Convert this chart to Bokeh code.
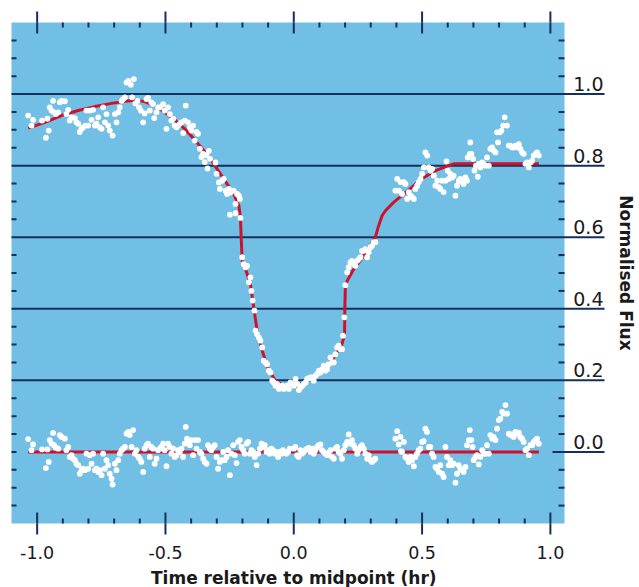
import numpy as np
from bokeh.plotting import figure
from bokeh.models import Range1d
from bokeh.embed import file_html
from bokeh.resources import INLINE
from bokeh.core.properties import value

# ---------------- data ----------------
# model light curve (red line)
model_x = [-1.035, -0.970, -0.905, -0.840, -0.775, -0.710, -0.658, -0.619, -0.600, -0.581,
           -0.542, -0.503, -0.464, -0.425, -0.386, -0.360, -0.325, -0.273, -0.234, -0.214,
           -0.208, -0.205, -0.201, -0.188, -0.169, -0.156, -0.143, -0.123, -0.097, -0.071,
           -0.039, 0.000, 0.039, 0.078, 0.117, 0.156, 0.188, 0.198, 0.199, 0.201,
           0.208, 0.234, 0.273, 0.299, 0.318, 0.331, 0.344, 0.357, 0.390, 0.429,
           0.468, 0.507, 0.546, 0.584, 0.623, 0.662, 0.955]
model_y = [0.905, 0.921, 0.940, 0.954, 0.965, 0.974, 0.980, 0.983, 0.981, 0.979,
           0.968, 0.949, 0.928, 0.903, 0.872, 0.850, 0.819, 0.763, 0.721, 0.688,
           0.656, 0.600, 0.534, 0.511, 0.469, 0.404, 0.339, 0.283, 0.227, 0.199,
           0.185, 0.182, 0.194, 0.208, 0.231, 0.264, 0.301, 0.329, 0.404, 0.460,
           0.478, 0.511, 0.548, 0.578, 0.600, 0.633, 0.660, 0.674, 0.698, 0.721,
           0.744, 0.767, 0.784, 0.795, 0.805, 0.805, 0.805]

# residual model line
resid_line_x = [-1.035, 0.955]
resid_line_y = [0.0, 0.0]

# observed flux (white points, upper)
flux_x = [-1.035, -1.022, -1.016, -0.981, -0.966, -0.960, -0.955, -0.951, -0.944, -0.938,
          -0.934, -0.927, -0.918, -0.912, -0.905, -0.892, -0.886, -0.879, -0.873, -0.866,
          -0.853, -0.847, -0.840, -0.834, -0.827, -0.821, -0.812, -0.808, -0.801, -0.795,
          -0.788, -0.782, -0.775, -0.769, -0.762, -0.756, -0.749, -0.743, -0.736, -0.730,
          -0.723, -0.717, -0.706, -0.697, -0.691, -0.684, -0.678, -0.671, -0.665, -0.658,
          -0.652, -0.645, -0.635, -0.630, -0.623, -0.617, -0.609, -0.603, -0.596, -0.587,
          -0.581, -0.574, -0.568, -0.561, -0.555, -0.548, -0.544, -0.535, -0.529, -0.522,
          -0.509, -0.503, -0.496, -0.490, -0.483, -0.477, -0.470, -0.464, -0.457, -0.451,
          -0.444, -0.438, -0.431, -0.425, -0.421, -0.412, -0.405, -0.399, -0.392, -0.386,
          -0.379, -0.373, -0.366, -0.360, -0.353, -0.347, -0.340, -0.336, -0.331, -0.326,
          -0.305, -0.301, -0.292, -0.288, -0.279, -0.273, -0.266, -0.260, -0.253, -0.247,
          -0.240, -0.234, -0.227, -0.221, -0.214, -0.210, -0.249, -0.227, -0.208, -0.201,
          -0.195, -0.188, -0.182, -0.175, -0.169, -0.165, -0.160, -0.153, -0.149, -0.143,
          -0.136, -0.130, -0.123, -0.117, -0.110, -0.104, -0.097, -0.091, -0.084, -0.078,
          -0.071, -0.065, -0.058, -0.052, -0.045, -0.039, -0.032, -0.026, -0.019, -0.013,
          -0.006, 0.000, 0.007, 0.013, 0.020, 0.026, 0.033, 0.039, 0.046, 0.052,
          0.059, 0.065, 0.072, 0.078, 0.085, 0.091, 0.098, 0.104, 0.111, 0.117,
          0.123, 0.130, 0.136, 0.143, 0.149, 0.156, 0.162, 0.169, 0.175, 0.182,
          0.188, 0.192, 0.197, 0.201, 0.208, 0.214, 0.221, 0.227, 0.234, 0.240,
          0.247, 0.253, 0.260, 0.266, 0.273, 0.279, 0.286, 0.292, 0.299, 0.305,
          0.312, 0.318,
          0.396, 0.403, 0.409, 0.416, 0.422, 0.429, 0.435, 0.442, 0.448, 0.455,
          0.461, 0.468, 0.474, 0.481, 0.487, 0.494, 0.500, 0.507, 0.513, 0.520,
          0.526, 0.533, 0.539, 0.546, 0.552, 0.559, 0.565, 0.571, 0.578, 0.584,
          0.591, 0.595, 0.600, 0.604, 0.610, 0.617, 0.623, 0.630, 0.636, 0.643,
          0.649, 0.656, 0.662, 0.669, 0.675, 0.678, 0.686, 0.688, 0.692, 0.699,
          0.704, 0.710, 0.717, 0.721, 0.727, 0.734, 0.740, 0.747, 0.753, 0.760,
          0.766, 0.773, 0.779, 0.786, 0.792, 0.796, 0.803, 0.809, 0.816, 0.822,
          0.831, 0.838, 0.844, 0.851, 0.857, 0.864, 0.870, 0.877, 0.883, 0.890,
          0.896, 0.903, 0.909, 0.916, 0.922, 0.929, 0.935, 0.942, 0.948, 0.955]
flux_y = [0.940, 0.912, 0.928, 0.926, 0.878, 0.931, 0.898, 0.963, 0.954, 0.981,
          0.949, 0.944, 0.949, 0.977, 0.981, 0.980, 0.944, 0.956, 0.926, 0.935,
          0.933, 0.921, 0.917, 0.894, 0.903, 0.907, 0.912, 0.954, 0.912, 0.954,
          0.928, 0.956, 0.912, 0.917, 0.935, 0.907, 0.903, 0.963, 0.921, 0.944,
          0.912, 0.898, 0.884, 0.944, 0.921, 0.949, 0.963, 0.981, 0.986, 0.991,
          1.032, 1.037, 1.026, 0.991, 1.042, 0.974, 0.981, 0.963, 0.954, 0.921,
          0.946, 0.986, 0.989, 0.954, 0.977, 0.972, 0.933, 0.949, 0.963, 0.963,
          0.972, 0.954, 0.903, 0.963, 0.944, 0.926, 0.931, 0.912, 0.907, 0.912,
          0.917, 0.921, 0.891, 0.926, 0.968, 0.921, 0.907, 0.898, 0.912, 0.870,
          0.894, 0.889, 0.847, 0.824, 0.833, 0.810, 0.829, 0.792, 0.841, 0.819,
          0.809, 0.777, 0.753, 0.735, 0.758, 0.763, 0.730, 0.721, 0.735, 0.725,
          0.730, 0.730, 0.693, 0.721, 0.716, 0.707, 0.663, 0.667, 0.654, 0.544,
          0.525, 0.516, 0.520, 0.474, 0.488, 0.450, 0.423, 0.395, 0.339, 0.329,
          0.320, 0.311, 0.292, 0.255, 0.250, 0.245, 0.227, 0.222, 0.199, 0.194,
          0.185, 0.190, 0.176, 0.180, 0.185, 0.176, 0.180, 0.185, 0.176, 0.194,
          0.190, 0.185, 0.204, 0.190, 0.173, 0.180, 0.185, 0.190, 0.194, 0.204,
          0.206, 0.208, 0.208, 0.199, 0.213, 0.218, 0.227, 0.222, 0.231, 0.241,
          0.227, 0.231, 0.245, 0.264, 0.250, 0.250, 0.273, 0.292, 0.297, 0.287,
          0.287, 0.325, 0.376, 0.466, 0.502, 0.516, 0.530, 0.534, 0.525, 0.520,
          0.534, 0.539, 0.544, 0.562, 0.562, 0.567, 0.544, 0.558, 0.572, 0.576,
          0.586, 0.586,
          0.730, 0.763, 0.730, 0.754, 0.721, 0.754, 0.749, 0.707, 0.726, 0.716,
          0.712, 0.707, 0.735, 0.744, 0.754, 0.763, 0.777, 0.795, 0.837, 0.828,
          0.795, 0.786, 0.791, 0.772, 0.744, 0.758, 0.740, 0.735, 0.758, 0.726,
          0.758, 0.812, 0.786, 0.763, 0.777, 0.767, 0.772, 0.716, 0.744, 0.758,
          0.763, 0.754, 0.749, 0.767, 0.758, 0.823, 0.833, 0.865, 0.833, 0.819,
          0.786, 0.800, 0.769, 0.805, 0.795, 0.809, 0.805, 0.800, 0.823, 0.800,
          0.847, 0.851, 0.842, 0.837, 0.893, 0.865, 0.893, 0.898, 0.912, 0.935,
          0.912, 0.856, 0.856, 0.851, 0.851, 0.856, 0.851, 0.860, 0.847, 0.837,
          0.833, 0.805, 0.809, 0.795, 0.809, 0.814, 0.828, 0.833, 0.837, 0.828]

# residuals (white points, lower)
resid_x = [-1.035, -1.022, -1.016, -0.981, -0.966, -0.960, -0.955, -0.951, -0.944, -0.938,
           -0.934, -0.927, -0.918, -0.912, -0.905, -0.892, -0.886, -0.879, -0.873, -0.866,
           -0.860, -0.853, -0.847, -0.840, -0.834, -0.827, -0.821, -0.814, -0.808, -0.801,
           -0.795, -0.788, -0.782, -0.775, -0.769, -0.762, -0.756, -0.749, -0.743, -0.736,
           -0.730, -0.723, -0.717, -0.710, -0.706, -0.697, -0.691, -0.684, -0.678, -0.671,
           -0.665, -0.658, -0.652, -0.645, -0.639, -0.632, -0.626, -0.619, -0.613, -0.606,
           -0.600, -0.594, -0.587, -0.581, -0.574, -0.568, -0.561, -0.555, -0.548, -0.542,
           -0.535, -0.529, -0.522, -0.516, -0.509, -0.503, -0.496, -0.490, -0.483, -0.477,
           -0.470, -0.464, -0.457, -0.451, -0.444, -0.438, -0.431, -0.425, -0.421, -0.416,
           -0.412, -0.405, -0.399, -0.392, -0.386, -0.379, -0.373, -0.366, -0.360, -0.353,
           -0.347, -0.340, -0.334, -0.327, -0.321, -0.314, -0.308, -0.301, -0.295, -0.288,
           -0.282, -0.275, -0.269, -0.262, -0.256, -0.249, -0.243, -0.236, -0.230, -0.223,
           -0.217, -0.210, -0.204, -0.197, -0.191, -0.184, -0.178, -0.171, -0.165, -0.158,
           -0.152, -0.145, -0.139, -0.132, -0.126, -0.119, -0.113, -0.106, -0.100, -0.094,
           -0.087, -0.081, -0.074, -0.068, -0.061, -0.055, -0.048, -0.042, -0.035, -0.029,
           -0.022, -0.016,
           0.000, 0.006, 0.013, 0.019, 0.026, 0.032, 0.039, 0.045, 0.052, 0.058,
           0.065, 0.071, 0.078, 0.084, 0.091, 0.097, 0.104, 0.110, 0.117, 0.123,
           0.130, 0.136, 0.143, 0.149, 0.156, 0.162, 0.169, 0.175, 0.182, 0.188,
           0.195, 0.201, 0.208, 0.214, 0.221, 0.227, 0.234, 0.240, 0.247, 0.253,
           0.260, 0.266, 0.273, 0.279, 0.286, 0.292, 0.299, 0.305, 0.312, 0.318,
           0.396, 0.403, 0.409, 0.416, 0.418, 0.422, 0.429, 0.435, 0.442, 0.448,
           0.455, 0.461, 0.468, 0.474, 0.480, 0.487, 0.493, 0.500, 0.506, 0.513,
           0.519, 0.526, 0.532, 0.539, 0.545, 0.552, 0.558, 0.565, 0.571, 0.578,
           0.584, 0.591, 0.597, 0.604, 0.610, 0.617, 0.623, 0.630, 0.636, 0.643,
           0.649, 0.656, 0.662, 0.669, 0.675, 0.682, 0.686, 0.692, 0.697, 0.701,
           0.708, 0.714, 0.721, 0.727, 0.734, 0.740, 0.747, 0.753, 0.760, 0.766,
           0.773, 0.779, 0.786, 0.792, 0.799, 0.805, 0.812, 0.818, 0.825, 0.831,
           0.838, 0.844, 0.851, 0.857, 0.864, 0.870, 0.877, 0.883, 0.890, 0.896,
           0.903, 0.909, 0.916, 0.922, 0.929, 0.935, 0.942, 0.948, 0.955]
resid_y = [0.036, 0.005, 0.021, 0.007, -0.045, 0.007, -0.028, 0.033, 0.023, 0.053,
           0.019, 0.012, 0.009, 0.047, 0.042, 0.037, 0.005, 0.014, -0.014, -0.009,
           -0.019, -0.023, -0.033, -0.037, -0.061, -0.051, -0.047, -0.051, -0.005, -0.047,
           -0.009, -0.033, -0.005, -0.051, -0.047, -0.056, -0.051, -0.065, -0.005, -0.047,
           -0.023, -0.037, -0.061, -0.075, -0.091, -0.033, -0.051, -0.023, -0.005, 0.005,
           0.009, 0.014, 0.051, 0.056, 0.047, 0.014, 0.061, -0.005, 0.005, -0.014,
           -0.019, -0.028, -0.056, 0.009, 0.019, 0.023, -0.014, 0.014, 0.009, -0.033,
           -0.019, 0.005, 0.009, 0.014, 0.023, 0.005, -0.040, 0.023, 0.014, -0.005,
           0.009, -0.014, -0.009, 0.005, 0.000, 0.009, -0.014, 0.023, 0.070, 0.037,
           0.028, 0.019, 0.033, -0.009, 0.033, 0.009, 0.033, 0.000, -0.005, -0.019,
           -0.028, -0.033, 0.019, 0.009, 0.005, 0.014, 0.019, -0.014, -0.047, -0.028,
           -0.023, 0.000, -0.023, -0.014, 0.005, -0.065, -0.005, 0.019, -0.009, -0.031,
           0.028, 0.033, 0.014, 0.005, -0.005, 0.023, 0.028, -0.005, 0.005, 0.000,
           -0.014, -0.037, -0.005, 0.009, 0.023, 0.014, 0.019, 0.000, 0.005, -0.005,
           0.009, 0.005, -0.005, 0.000, -0.014, 0.000, -0.005, 0.005, 0.000, -0.005,
           0.000, 0.009,
           0.009, 0.014, -0.009, -0.014, 0.005, -0.005, 0.000, 0.005, 0.009, 0.011,
           0.000, 0.009, -0.005, 0.005, 0.014, 0.019, 0.021, 0.005, 0.000, -0.005,
           -0.009, -0.002, 0.005, -0.014, -0.019, 0.009, 0.014, 0.000, -0.005, -0.019,
           0.005, 0.019, 0.028, 0.049, 0.023, 0.033, 0.019, 0.009, -0.005, 0.005,
           0.014, 0.019, 0.009, -0.005, -0.019, -0.009, -0.023, -0.028, -0.023, -0.019,
           0.037, 0.058, 0.021, 0.042, 0.002, 0.000, 0.028, -0.014, -0.019, -0.028,
           -0.014, -0.023, -0.040, -0.014, -0.005, 0.005, 0.009, 0.028, 0.030, 0.065,
           0.056, 0.014, 0.014, -0.005, -0.014, -0.042, -0.047, -0.056, -0.037, -0.061,
           -0.070, 0.014, -0.014, -0.037, -0.023, -0.037, -0.033, -0.086, -0.061, -0.037,
           -0.047, -0.051, -0.056, -0.042, 0.019, 0.033, 0.061, 0.033, 0.014, -0.023,
           -0.014, -0.009, -0.035, -0.014, 0.005, -0.005, -0.005, 0.019, -0.005, 0.047,
           0.037, 0.042, 0.033, 0.065, 0.089, 0.093, 0.112, 0.107, 0.131, 0.107,
           0.051, 0.047, 0.049, 0.042, 0.056, 0.051, 0.054, 0.042, 0.037, 0.028,
           0.005, 0.009, -0.009, 0.019, 0.019, 0.028, 0.033, 0.037, 0.023]

# axes / labels
x_major = [-1.0, -0.5, 0.0, 0.5, 1.0]
x_minor = [-0.9, -0.8, -0.7, -0.6, -0.4, -0.3, -0.2, -0.1,
           0.1, 0.2, 0.3, 0.4, 0.6, 0.7, 0.8, 0.9]
x_tick_labels = ["-1.0", "-0.5", "0.0", "0.5", "1.0"]
y_lines = [1.0, 0.8, 0.6, 0.4, 0.2]
y_label_vals = [1.0, 0.8, 0.6, 0.4, 0.2, 0.0]
y_tick_labels = ["1.0", "0.8", "0.6", "0.4", "0.2", "0.0"]
y_minor = [1.15, 1.1, 1.05, 0.95, 0.9, 0.85, 0.75, 0.7, 0.65, 0.55, 0.5, 0.45,
           0.35, 0.3, 0.25, 0.15, 0.1, 0.05, -0.05, -0.1, -0.15]
x_title = "Time relative to midpoint (hr)"
y_title = "Normalised Flux"

# ---------------- layout / styling ----------------
W, H = 639, 587
BLUE = "#72BFE6"
NAVY = "#15305C"
RED = "#D0112B"
TXT = "#1a1a1a"
FONT = "DejaVu Sans"

# blue panel extent (data units) and its pixel box on the canvas
PX0, PX1 = -1.1, 1.055
PY0, PY1 = -0.2, 1.2
BOX_L, BOX_R, BOX_T, BOX_B = 11, 564, 22, 523
ppx = (BOX_R - BOX_L) / (PX1 - PX0)
ppy = (BOX_B - BOX_T) / (PY1 - PY0)
XR = (PX0 - BOX_L / ppx, PX0 + (W - BOX_L) / ppx)
YR = (PY0 - (H - BOX_B) / ppy, PY1 + BOX_T / ppy)
LINE_END = PX0 + (604 - BOX_L) / ppx
LABEL_R = PX0 + (603 - BOX_L) / ppx
YTITLE_X = PX0 + (625 - BOX_L) / ppx

p = figure(width=W, height=H, output_backend="svg", toolbar_location=None,
           x_range=Range1d(*XR), y_range=Range1d(*YR),
           x_axis_location=None, y_axis_location=None, min_border=0,
           min_border_left=0, min_border_right=0, min_border_top=0, min_border_bottom=0)
p.xgrid.grid_line_color = None
p.ygrid.grid_line_color = None
p.outline_line_color = None
p.background_fill_color = "white"
p.border_fill_color = "white"

# blue panel
p.quad(left=PX0, right=PX1, bottom=PY0, top=PY1, fill_color=BLUE, line_color=None)

# x ticks (top & bottom): major cross the panel edge, minor inside
for yedge, inward in ((PY1, -np.pi / 2), (PY0, np.pi / 2)):
    p.ray(x=x_major, y=[yedge] * len(x_major), length=11, length_units="screen",
          angle=inward, line_color=NAVY, line_width=2)
    p.ray(x=x_major, y=[yedge] * len(x_major), length=11, length_units="screen",
          angle=inward + np.pi, line_color=NAVY, line_width=2)
    p.ray(x=x_minor, y=[yedge] * len(x_minor), length=5, length_units="screen",
          angle=inward, line_color=NAVY, line_width=2)

# y ticks (left & right, inside)
p.ray(x=[PX0] * (len(y_minor) + 1), y=y_minor + [0.0], length=5, length_units="screen",
      angle=0, line_color=NAVY, line_width=2)
p.ray(x=[PX1] * len(y_minor), y=y_minor, length=6, length_units="screen",
      angle=np.pi, line_color=NAVY, line_width=2)

# reference lines
p.segment(x0=[PX0] * len(y_lines), x1=[LINE_END] * len(y_lines), y0=y_lines, y1=y_lines,
          line_color=NAVY, line_width=2)
p.ray(x=[LINE_END], y=[0.0], length=52, length_units="screen", angle=np.pi,
      line_color=NAVY, line_width=2)

# model lines
p.line(model_x, model_y, line_color=RED, line_width=3)
p.line(resid_line_x, resid_line_y, line_color=RED, line_width=3)

# data points
p.scatter(flux_x, flux_y, size=5.8, fill_color="white", line_color=None)
p.scatter(resid_x, resid_y, size=5.8, fill_color="white", line_color=None)

# right-hand value labels
p.text(x=[LABEL_R] * len(y_label_vals), y=y_label_vals, text=y_tick_labels,
       text_align="right", text_baseline="middle", y_offset=-10,
       text_font=value(FONT), text_font_size="19px", text_color=TXT)

# bottom tick labels
p.text(x=x_major, y=[PY0] * len(x_major), text=x_tick_labels,
       text_align="center", text_baseline="middle", y_offset=29,
       text_font=value(FONT), text_font_size="17.5px", text_color=TXT)

# axis titles
p.text(x=[0.0], y=[PY0], text=[x_title], text_align="center", text_baseline="middle",
       y_offset=54, text_font=value(FONT), text_font_size="17px",
       text_font_style="bold", text_color=TXT)
p.text(x=[YTITLE_X], y=[(PY0 + PY1) / 2], text=[y_title], angle=-np.pi / 2,
       text_align="center", text_baseline="middle", text_font=value(FONT),
       text_font_size="17px", text_font_style="bold", text_color=TXT)

open("out.html", "w").write(file_html(p, INLINE))
